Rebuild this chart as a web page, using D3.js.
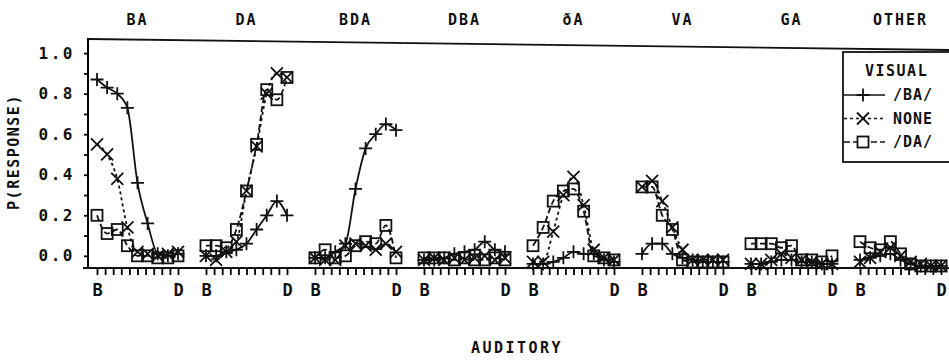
<!DOCTYPE html>
<html>
<head>
<meta charset="utf-8">
<script src="https://cdn.jsdelivr.net/npm/d3@7"></script>
<style>
  body { margin: 0; background: #fff; }
  text { font-family: "DejaVu Sans Mono", monospace; font-weight: bold; fill: #111; }
</style>
</head>
<body>
<div id="chart"></div>
<script>
// response categories (one panel each)
const panels = ['BA', 'DA', 'BDA', 'DBA', 'ðA', 'VA', 'GA', 'OTHER'];
// auditory continuum: 9 levels from B to D
const levels = [0, 1, 2, 3, 4, 5, 6, 7, 8];
const levelLabels = ['B', 'D'];
const yTicks = [0, 0.1, 0.2, 0.3, 0.4, 0.5, 0.6, 0.7, 0.8, 0.9, 1.0];
const visualLabels = ['/BA/', 'NONE', '/DA/'];

// P(response) per panel, visual /BA/
const visBA = [
  [0.87, 0.83, 0.80, 0.73, 0.36, 0.16, 0.01, 0.00, 0.01],
  [0.00, 0.00, 0.02, 0.03, 0.06, 0.13, 0.20, 0.27, 0.20],
  [-0.01, -0.01, 0.02, 0.06, 0.33, 0.53, 0.60, 0.65, 0.62],
  [-0.02, -0.02, -0.01, 0.01, 0.02, 0.03, 0.07, 0.03, 0.02],
  [-0.04, -0.04, -0.03, -0.01, 0.02, 0.01, 0.01, -0.02, -0.03],
  [0.01, 0.06, 0.06, 0.01, -0.01, -0.02, -0.03, -0.03, -0.03],
  [-0.04, -0.04, -0.03, -0.02, -0.02, -0.03, -0.03, -0.04, -0.04],
  [-0.02, -0.01, 0.00, 0.01, -0.02, -0.04, -0.05, -0.05, -0.05]
];
// visual NONE
const visNone = [
  [0.55, 0.50, 0.38, 0.14, 0.02, 0.01, 0.00, 0.01, 0.02],
  [0.00, -0.02, 0.02, 0.07, 0.32, 0.54, 0.80, 0.90, 0.88],
  [-0.01, -0.02, -0.02, 0.05, 0.06, 0.05, 0.03, 0.06, 0.02],
  [-0.02, -0.01, -0.02, -0.01, -0.02, -0.01, 0.00, -0.02, -0.01],
  [-0.03, -0.03, 0.12, 0.30, 0.39, 0.25, 0.03, -0.01, -0.02],
  [0.34, 0.37, 0.27, 0.14, 0.03, -0.02, -0.02, -0.02, -0.02],
  [-0.04, -0.04, -0.02, 0.01, -0.01, -0.02, -0.03, -0.04, -0.04],
  [-0.03, -0.01, 0.02, 0.04, 0.00, -0.03, -0.04, -0.05, -0.05]
];
// visual /DA/
const visDA = [
  [0.20, 0.11, 0.13, 0.05, 0.00, 0.00, -0.01, -0.01, 0.00],
  [0.05, 0.05, 0.04, 0.13, 0.32, 0.55, 0.82, 0.77, 0.88],
  [-0.01, 0.03, -0.01, 0.00, 0.05, 0.07, 0.06, 0.15, -0.01],
  [-0.01, -0.01, -0.01, -0.02, -0.01, -0.02, -0.02, -0.01, -0.02],
  [0.05, 0.14, 0.27, 0.32, 0.33, 0.22, 0.00, -0.01, -0.02],
  [0.34, 0.34, 0.20, 0.13, -0.02, -0.03, -0.03, -0.03, -0.03],
  [0.06, 0.06, 0.06, 0.04, 0.05, -0.02, -0.02, -0.03, 0.00],
  [0.07, 0.04, 0.03, 0.07, 0.01, -0.04, -0.05, -0.05, -0.05]
];

const width = 949, height = 360;
const plotLeft = 88, plotTop = 43, plotBottom = 268;

const svg = d3.select('#chart').append('svg')
  .attr('width', width)
  .attr('height', height);

const panelX = d3.scaleBand().domain(panels).range([97, 97 + 8 * 109]);
const levelX = d3.scaleLinear().domain([0, 8]).range([0, 81]);
const y = d3.scaleLinear().domain([-0.06, 1.05]).range([plotBottom, plotTop]);

const series = [
  {name: visualLabels[0], values: visBA, dash: null, marker: 'plus'},
  {name: visualLabels[1], values: visNone, dash: '3,3', marker: 'cross'},
  {name: visualLabels[2], values: visDA, dash: '6,3', marker: 'square'}
];

function drawMarker(g, type) {
  if (type === 'plus') {
    g.append('path').attr('d', 'M-6.5,0H6.5M0,-6.5V6.5');
  } else if (type === 'cross') {
    g.append('path').attr('d', 'M-6,-6L6,6M6,-6L-6,6');
  } else {
    g.append('rect').attr('x', -5.5).attr('y', -5.5).attr('width', 11).attr('height', 11);
  }
}

// frame lines
svg.append('line')
  .attr('x1', plotLeft).attr('x2', width)
  .attr('y1', plotTop - 4).attr('y2', plotTop + 7)
  .attr('stroke', '#111').attr('stroke-width', 1.8);
svg.append('line')
  .attr('x1', 83).attr('x2', width)
  .attr('y1', plotBottom).attr('y2', plotBottom)
  .attr('stroke', '#111').attr('stroke-width', 2);

// y axis
svg.append('g')
  .attr('transform', 'translate(' + plotLeft + ',0)')
  .call(d3.axisLeft(y).tickValues(yTicks).tickSize(4).tickSizeOuter(0).tickPadding(9)
    .tickFormat(d => Math.round(d * 10) % 2 === 0 ? d.toFixed(1) : ''))
  .call(g => {
    g.select('.domain').attr('d', 'M0,' + (plotTop - 5) + 'V' + plotBottom).attr('stroke-width', 2);
    g.selectAll('.tick line').attr('stroke-width', 1.8);
    g.selectAll('.tick text').attr('font-size', 16).attr('letter-spacing', 2.5)
      .style('font-family', '"DejaVu Sans Mono", monospace').style('font-weight', 'bold');
  });

svg.append('text')
  .attr('transform', 'translate(19,152) rotate(-90)')
  .attr('text-anchor', 'middle')
  .attr('font-size', 15)
  .attr('letter-spacing', 1.5)
  .text('P(RESPONSE)');

svg.append('text')
  .attr('x', 517).attr('y', 353)
  .attr('text-anchor', 'middle')
  .attr('font-size', 15)
  .attr('letter-spacing', 2.5)
  .text('AUDITORY');

const line = d3.line()
  .x(d => levelX(d.level))
  .y(d => y(d.value))
  .curve(d3.curveMonotoneX);

panels.forEach((name, p) => {
  const g = svg.append('g')
    .attr('transform', 'translate(' + panelX(name) + ',0)');

  g.append('text')
    .attr('x', levelX(4)).attr('y', 25)
    .attr('text-anchor', 'middle')
    .attr('font-size', 15)
    .attr('letter-spacing', 2)
    .text(name);

  g.append('g')
    .attr('transform', 'translate(0,' + plotBottom + ')')
    .call(d3.axisBottom(levelX).tickValues(d3.range(11).map(i => i * 0.8))
      .tickSize(7).tickSizeOuter(0).tickPadding(9)
      .tickFormat(d => d === 0 ? levelLabels[0] : (Math.abs(d - 8) < 1e-6 ? levelLabels[1] : '')))
    .call(a => {
      a.select('.domain').remove();
      a.selectAll('.tick line').attr('stroke-width', 1.8);
      a.selectAll('.tick text').attr('font-size', 17)
        .style('font-family', '"DejaVu Sans Mono", monospace').style('font-weight', 'bold');
    });

  series.forEach(s => {
    const pts = levels.map(l => ({level: l, value: s.values[p][l]}));
    g.append('path')
      .attr('d', line(pts))
      .attr('fill', 'none')
      .attr('stroke', '#111')
      .attr('stroke-width', 1.8)
      .attr('stroke-dasharray', s.dash);
    g.selectAll(null)
      .data(pts)
      .enter()
      .append('g')
      .attr('transform', d => 'translate(' + levelX(d.level) + ',' + y(d.value) + ')')
      .attr('fill', 'none')
      .attr('stroke', '#111')
      .attr('stroke-width', 1.8)
      .each(function () { drawMarker(d3.select(this), s.marker); });
  });
});

// legend
const legend = svg.append('g').attr('transform', 'translate(843,52)');
legend.append('rect')
  .attr('x', 0).attr('y', 0).attr('width', 120).attr('height', 110)
  .attr('fill', '#fff').attr('stroke', '#111').attr('stroke-width', 1.8);
legend.append('text')
  .attr('x', 22).attr('y', 24)
  .attr('font-size', 15).attr('letter-spacing', 1.5)
  .text('VISUAL');
series.forEach((s, i) => {
  const row = legend.append('g').attr('transform', 'translate(0,' + (43 + i * 23.5) + ')');
  row.append('line')
    .attr('x1', 1).attr('x2', 42)
    .attr('stroke', '#111').attr('stroke-width', 1.6)
    .attr('stroke-dasharray', s.dash);
  const m = row.append('g')
    .attr('transform', 'translate(20,0)')
    .attr('fill', s.marker === 'square' ? '#fff' : 'none')
    .attr('stroke', '#111').attr('stroke-width', 1.8);
  drawMarker(m, s.marker);
  row.append('text')
    .attr('x', 50).attr('y', 5)
    .attr('font-size', 15).attr('letter-spacing', 1)
    .text(s.name);
});
</script>
</body>
</html>
